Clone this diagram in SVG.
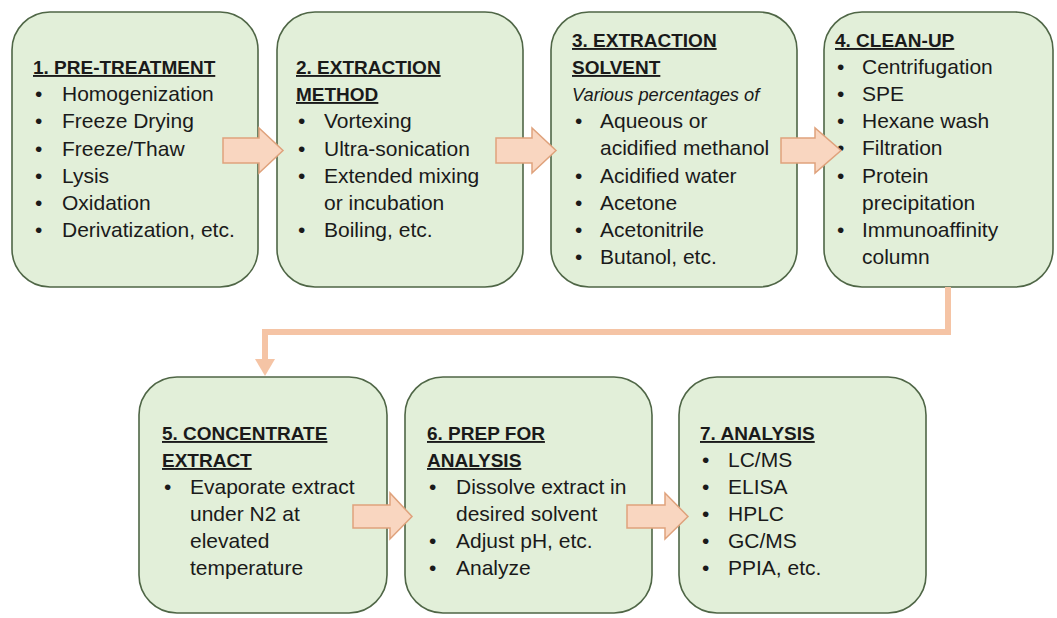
<svg xmlns="http://www.w3.org/2000/svg" width="1057" height="618" viewBox="0 0 1057 618">
<style>
.box{fill:#e2efd9;stroke:#4f6646;stroke-width:1.6}
.t{font-family:"Liberation Sans",Arial,sans-serif;font-weight:bold;font-size:19px;fill:#1a1a1a;text-decoration:underline}
.b{font-family:"Liberation Sans",Arial,sans-serif;font-size:21px;fill:#1a1a1a}
.i{font-family:"Liberation Sans",Arial,sans-serif;font-style:italic;font-size:18.3px;fill:#1a1a1a}
.arr{fill:#f9d6c0;stroke:#dfa27c;stroke-width:1.5;stroke-linejoin:miter}
.con{fill:none;stroke:#f5c4a5;stroke-width:6}
</style>
<defs>
<marker id="ah" markerUnits="userSpaceOnUse" markerWidth="20" markerHeight="18" refX="10" refY="16" orient="auto" viewBox="0 0 20 18">
<path d="M0 0 L20 0 L10 17 Z" fill="#f5c4a5" transform="rotate(-90 10 9)"/>
</marker>
</defs>
<rect width="1057" height="618" fill="#ffffff"/>

<g id="node1">
<rect class="box" x="12" y="12" width="246" height="275" rx="38"/>
<text class="t" x="33" y="74">1. PRE-TREATMENT</text>
<g class="b">
<text x="35" y="101">•</text><text x="62" y="101">Homogenization</text>
<text x="35" y="128">•</text><text x="62" y="128">Freeze Drying</text>
<text x="35" y="156">•</text><text x="62" y="156">Freeze/Thaw</text>
<text x="35" y="183">•</text><text x="62" y="183">Lysis</text>
<text x="35" y="210">•</text><text x="62" y="210">Oxidation</text>
<text x="35" y="237">•</text><text x="62" y="237">Derivatization, etc.</text>
</g>
</g>

<g id="node2">
<rect class="box" x="277" y="12" width="246" height="275" rx="38"/>
<text class="t" x="296" y="74">2. EXTRACTION</text>
<text class="t" x="296" y="101">METHOD</text>
<g class="b">
<text x="298" y="128">•</text><text x="324" y="128">Vortexing</text>
<text x="298" y="156">•</text><text x="324" y="156">Ultra-sonication</text>
<text x="298" y="183">•</text><text x="324" y="183">Extended mixing</text>
<text x="324" y="210">or incubation</text>
<text x="298" y="237">•</text><text x="324" y="237">Boiling, etc.</text>
</g>
</g>

<g id="node3">
<rect class="box" x="551" y="12" width="246" height="275" rx="38"/>
<text class="t" x="572" y="47">3. EXTRACTION</text>
<text class="t" x="572" y="74">SOLVENT</text>
<text class="i" x="572" y="101">Various percentages of</text>
<g class="b">
<text x="575" y="128">•</text><text x="600" y="128">Aqueous or</text>
<text x="600" y="155">acidified methanol</text>
<text x="575" y="183">•</text><text x="600" y="183">Acidified water</text>
<text x="575" y="210">•</text><text x="600" y="210">Acetone</text>
<text x="575" y="237">•</text><text x="600" y="237">Acetonitrile</text>
<text x="575" y="264">•</text><text x="600" y="264">Butanol, etc.</text>
</g>
</g>

<g id="node4">
<rect class="box" x="824" y="12" width="229" height="275" rx="38"/>
<text class="t" x="835" y="47">4. CLEAN-UP</text>
<g class="b">
<text x="837" y="74">•</text><text x="862" y="74">Centrifugation</text>
<text x="837" y="101">•</text><text x="862" y="101">SPE</text>
<text x="837" y="128">•</text><text x="862" y="128">Hexane wash</text>
<text x="837" y="155">•</text><text x="862" y="155">Filtration</text>
<text x="837" y="183">•</text><text x="862" y="183">Protein</text>
<text x="862" y="210">precipitation</text>
<text x="837" y="237">•</text><text x="862" y="237">Immunoaffinity</text>
<text x="862" y="264">column</text>
</g>
</g>

<g id="node5">
<rect class="box" x="139" y="377" width="248" height="236" rx="38"/>
<text class="t" x="162" y="440">5. CONCENTRATE</text>
<text class="t" x="162" y="467">EXTRACT</text>
<g class="b">
<text x="164" y="494">•</text><text x="190" y="494">Evaporate extract</text>
<text x="190" y="521">under N2 at</text>
<text x="190" y="548">elevated</text>
<text x="190" y="575">temperature</text>
</g>
</g>

<g id="node6">
<rect class="box" x="405" y="377" width="247" height="236" rx="38"/>
<text class="t" x="427" y="440">6. PREP FOR</text>
<text class="t" x="427" y="467">ANALYSIS</text>
<g class="b">
<text x="429" y="494">•</text><text x="456" y="494">Dissolve extract in</text>
<text x="456" y="521">desired solvent</text>
<text x="429" y="548">•</text><text x="456" y="548">Adjust pH, etc.</text>
<text x="429" y="575">•</text><text x="456" y="575">Analyze</text>
</g>
</g>

<g id="node7">
<rect class="box" x="679" y="377" width="247" height="236" rx="38"/>
<text class="t" x="700" y="440">7. ANALYSIS</text>
<g class="b">
<text x="702" y="467">•</text><text x="728" y="467">LC/MS</text>
<text x="702" y="494">•</text><text x="728" y="494">ELISA</text>
<text x="702" y="521">•</text><text x="728" y="521">HPLC</text>
<text x="702" y="548">•</text><text x="728" y="548">GC/MS</text>
<text x="702" y="575">•</text><text x="728" y="575">PPIA, etc.</text>
</g>
</g>

<g id="connectors">
<polygon class="arr" points="223,138 259,138 259,128 283,150.5 259,173 259,163 223,163"/>
<polygon class="arr" points="496,138 532,138 532,128 556,150.5 532,173 532,163 496,163"/>
<polygon class="arr" points="781,138 815,138 815,128 841,150.5 815,173 815,163 781,163"/>
<polygon class="arr" points="353,505 390,505 390,493 412,516.5 390,539 390,528 353,528"/>
<polygon class="arr" points="627,505 665,505 665,493 688,516.5 665,539 665,528 627,528"/>
<path class="con" d="M948 287 V332 H265 V360"/>
<polygon points="255,359 275,359 265,376" fill="#f5c4a5"/>
</g>
</svg>
